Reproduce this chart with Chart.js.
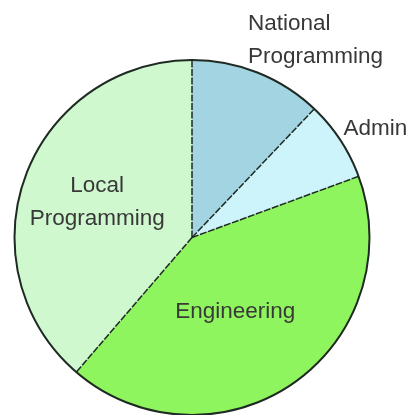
<!DOCTYPE html>
<html>
<head>
<meta charset="utf-8">
<script src="https://cdn.jsdelivr.net/npm/chart.js@4"></script>
<style>
  html, body { margin: 0; padding: 0; background: #fff; }
  #wrap { width: 417px; height: 415px; position: relative; }
</style>
</head>
<body>
<div id="wrap"><canvas id="c"></canvas></div>
<script>
// slices, clockwise from 12 o'clock
const categories = ["National Programming", "Admin", "Engineering", "Local Programming"];
const shares = [12.1, 7.3, 41.9, 38.7];
const sliceColors = ["#a2d5e1", "#cdf3fb", "#8ff55e", "#cff8cf"];

// where each label sits, relative to pie centre, in units of radius
const labelLines = [["National", "Programming"], ["Admin"], ["Engineering"], ["Local", "Programming"]];
const labelSpots = [
  { dx: 0.315, dy: -1.112, align: "left" },
  { dx: 0.854, dy: -0.612, align: "left" },
  { dx: 0.244, dy: 0.42, align: "center" },
  { dx: -0.534, dy: -0.196, align: "center" },
];

// outline + dashed dividers + text labels, all from the arc geometry
const pieDecor = {
  id: "pieDecor",
  afterDatasetsDraw(chart) {
    const ctx = chart.ctx;
    const arcs = chart.getDatasetMeta(0).data;
    if (!arcs.length) return;
    const { x, y, outerRadius } = arcs[0].getProps(["x", "y", "outerRadius"], true);

    ctx.save();
    ctx.strokeStyle = "#1e2a22";
    ctx.lineWidth = 1.5;
    ctx.setLineDash([7, 1.5]);
    arcs.forEach(a => {
      const ang = a.startAngle;
      ctx.beginPath();
      ctx.moveTo(x, y);
      ctx.lineTo(x + Math.cos(ang) * outerRadius, y + Math.sin(ang) * outerRadius);
      ctx.stroke();
    });
    ctx.setLineDash([]);
    ctx.lineWidth = 2;
    ctx.beginPath();
    ctx.arc(x, y, outerRadius, 0, Math.PI * 2);
    ctx.stroke();

    ctx.fillStyle = "#383838";
    ctx.font = '22.5px "Liberation Sans", Arial, sans-serif';
    ctx.textBaseline = "middle";
    const lh = 33;
    labelLines.forEach((lines, i) => {
      const s = labelSpots[i];
      ctx.textAlign = s.align;
      const cx = x + s.dx * outerRadius;
      const cy = y + s.dy * outerRadius;
      lines.forEach((t, k) => {
        ctx.fillText(t, cx, cy + (k - (lines.length - 1) / 2) * lh);
      });
    });
    ctx.restore();
  }
};

new Chart(document.getElementById("c"), {
  type: "pie",
  data: {
    labels: categories,
    datasets: [{
      data: shares,
      backgroundColor: sliceColors,
      borderWidth: 0,
    }]
  },
  options: {
    responsive: true,
    maintainAspectRatio: false,
    animation: false,
    layout: { padding: { left: 14, right: 47, top: 60, bottom: 0 } },
    plugins: {
      legend: { display: false },
      tooltip: { enabled: false },
    }
  },
  plugins: [pieDecor]
});
</script>
</body>
</html>
